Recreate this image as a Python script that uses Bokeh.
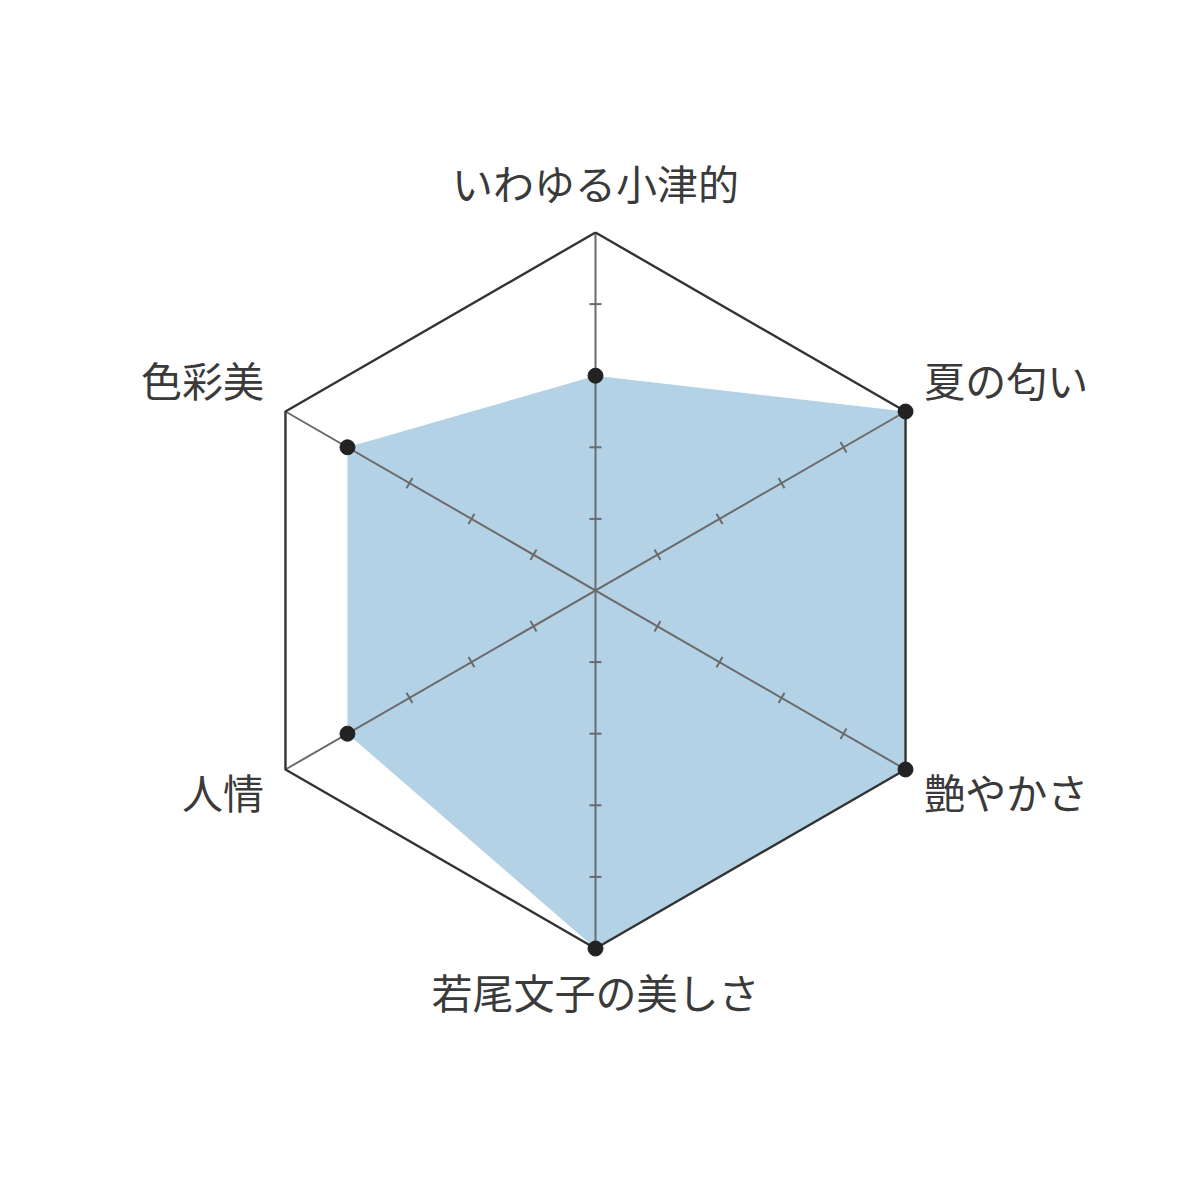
import math
from bokeh.plotting import figure
from bokeh.models import Range1d
from bokeh.core.properties import value
from bokeh.embed import file_html
from bokeh.resources import INLINE

# ---- data ----
categories = ["いわゆる小津的", "夏の匂い", "艶やかさ", "若尾文子の美しさ", "人情", "色彩美"]
scores = [3, 5, 5, 5, 4, 4]
max_score = 5
tick_levels = [1, 2, 3, 4]

# ---- geometry ----
n = len(categories)
angles = [math.radians(90 - i * 360 / n) for i in range(n)]

PX = 71.6  # pixels per unit
W = H = 1184
cx_px, cy_px = 595, 590
p = figure(width=W, height=H, output_backend="svg", toolbar_location=None,
           x_range=Range1d(-cx_px / PX, (W - cx_px) / PX),
           y_range=Range1d(-(H - cy_px) / PX, cy_px / PX),
           min_border=0)
p.axis.visible = False
p.grid.visible = False
p.outline_line_color = None
p.background_fill_color = "white"

# filled data polygon
dx = [s * math.cos(a) for s, a in zip(scores, angles)]
dy = [s * math.sin(a) for s, a in zip(scores, angles)]
p.patch(dx, dy, fill_color="#b4d2e6", line_color=None)

# spokes
for a in angles[:3]:
    p.line([max_score * math.cos(a), -max_score * math.cos(a)],
           [max_score * math.sin(a), -max_score * math.sin(a)],
           line_color="#6b6b6b", line_width=2)

# ticks
half = 6 / PX
xs, ys = [], []
for a in angles:
    px_, py_ = -math.sin(a), math.cos(a)
    for t in tick_levels:
        bx, by = t * math.cos(a), t * math.sin(a)
        xs.append([bx - half * px_, bx + half * px_])
        ys.append([by - half * py_, by + half * py_])
p.multi_line(xs, ys, line_color="#6b6b6b", line_width=2)

# outer hexagon
hx = [max_score * math.cos(a) for a in angles] + [max_score * math.cos(angles[0])]
hy = [max_score * math.sin(a) for a in angles] + [max_score * math.sin(angles[0])]
p.line(hx, hy, line_color="#333333", line_width=2.4)

# points
p.scatter(dx, dy, size=15, fill_color="#222222", line_color="#222222")

# labels
lx, ly, align = [], [], []
for a, c in zip(angles, categories):
    ca, sa = math.cos(a), math.sin(a)
    if abs(ca) < 1e-6:
        lx.append(0)
        ly.append(max_score + 0.71 if sa > 0 else -max_score - 0.60)
        align.append("center")
    else:
        lx.append(max_score * ca + (0.26 if ca > 0 else -0.30))
        ly.append(max_score * sa + (0.45 if sa > 0 else -0.30))
        align.append("left" if ca > 0 else "right")
p.text(lx, ly, text=categories, text_align=align, text_baseline="middle",
       text_font=value("Noto Sans CJK JP"), text_font_size="41px",
       text_color="#3a3a3a")

open("out.html", "w").write(file_html(p, INLINE))
